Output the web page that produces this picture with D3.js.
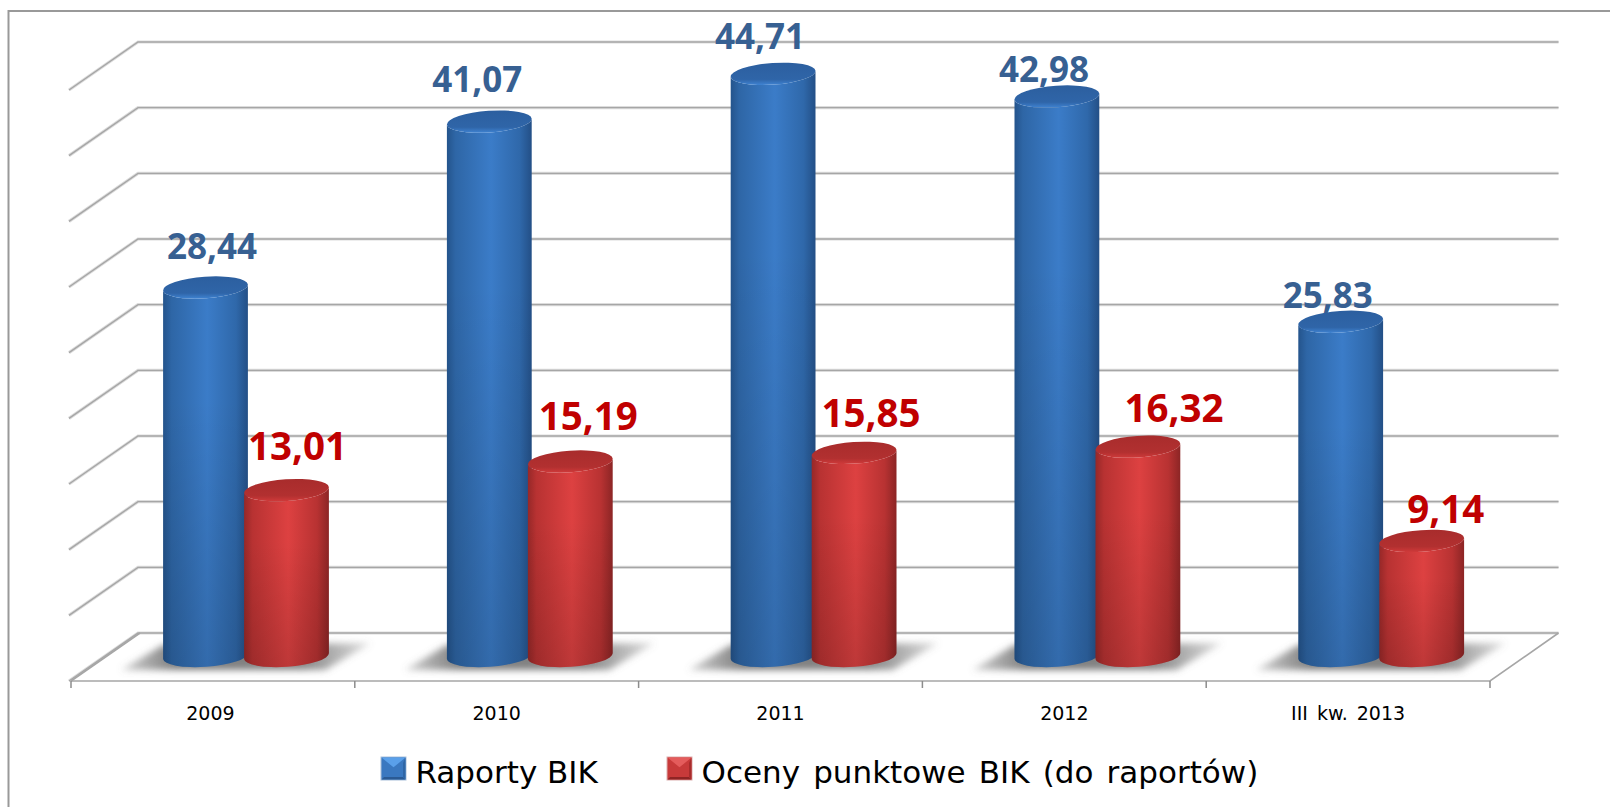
<!DOCTYPE html>
<html lang="pl">
<head>
<meta charset="utf-8">
<script src="https://d3js.org/d3.v7.min.js"></script>
<style>
html,body{margin:0;padding:0;background:#fff;overflow:hidden}
svg{display:block}
</style>
</head>
<body>
<svg id="chart" width="1610" height="807"></svg>
<script>
// ---- data ----
const categories = ["2009", "2010", "2011", "2012", "III kw. 2013"];
const seriesNames = ["Raporty BIK", "Oceny punktowe BIK (do raportów)"];
const raportyValues = [28.44, 41.07, 44.71, 42.98, 25.83];
const ocenyValues = [13.01, 15.19, 15.85, 16.32, 9.14];

// ---- layout ----
const W = 1610, H = 807;
const depthX = 69, depthY = 48;      // wall/floor skew
const midDepthY = 28;                // value tops are offset onto the floor's mid depth
const baseDepthY = 23;               // centre of the cylinder's bottom cap
const barRx = 42.5, barRy = 10.8, tilt = -4;
const labelDx = [[6.5, -12, -13, -13, -13], [11, 18, 17, 36, 24]];
const labelDy = [[-28, -30, -25, -15, -14], [-30, -32, -26, -25, -18]];
const labelSize = [35, 38.5];
const labelColor = ["#376092", "#C00000"];
const tickLabelDx = [-2.5, 0, 0, 0, 0];
const palettes = [
  {id:"b", stops:["#24548c", "#2e66a6", "#3b7cc8", "#2f68aa", "#234f86"], top:"#2f65a8", topHi:"#2c5f9f", rim:"#3f83d2"},
  {id:"r", stops:["#962828", "#b83232", "#dd4141", "#b83232", "#8c2525"], top:"#b23030", topHi:"#a82c2c", rim:"#d03a3a"}
];

const svg = d3.select("#chart");
const defs = svg.append("defs");

// scales
const y = d3.scaleLinear().domain([0, 45]).range([633, 42]);
const x = d3.scaleBand().domain(categories).range([71, 1490]);
const xSeries = d3.scaleBand().domain(seriesNames).range([94, 256]);
const gridValues = y.ticks(9);

// gradients
palettes.forEach(p => {
  const g = defs.append("linearGradient").attr("id", "body-" + p.id);
  [0, .1, .52, .86, 1].forEach((o, i) =>
    g.append("stop").attr("offset", o).attr("stop-color", p.stops[i]));
  const t = defs.append("linearGradient").attr("id", "top-" + p.id)
    .attr("x1", 0).attr("x2", 0).attr("y1", 0).attr("y2", 1);
  [[0, p.topHi], [.75, p.top], [1, p.rim]]
    .forEach(s => t.append("stop").attr("offset", s[0]).attr("stop-color", s[1]));
});
const dark = defs.append("linearGradient").attr("id", "darken")
  .attr("x1", 0).attr("x2", 0).attr("y1", 0).attr("y2", 1);
[[0, 0], [.3, 0], [1, .14]].forEach(s =>
  dark.append("stop").attr("offset", s[0]).attr("stop-color", "#000").attr("stop-opacity", s[1]));
const sh = defs.append("linearGradient").attr("id", "shadow");
[[0, .3], [.22, .9], [.72, .85], [1, .2]].forEach(s =>
  sh.append("stop").attr("offset", s[0]).attr("stop-color", "#6e6e6e").attr("stop-opacity", s[1]));
defs.append("filter").attr("id", "blur").attr("x", "-20%").attr("y", "-40%").attr("width", "140%").attr("height", "180%")
  .append("feGaussianBlur").attr("stdDeviation", 3.5);

// outer frame: only top and left edges are visible
svg.append("path").attr("d", `M8.5 ${H}V11H${W}`)
  .attr("fill", "none").attr("stroke", "#999").attr("stroke-width", 2);

// gridlines on back and side walls
const gridG = svg.append("g").attr("fill", "none");
const gridPath = v => `M${71 - 2} ${y(v) + depthY}L${71 - 2 + depthX} ${y(v)}H1558.5`;
gridG.selectAll("path.halo").data(gridValues).join("path").attr("class", "halo")
  .attr("d", gridPath).attr("stroke", "#dcdcdc").attr("stroke-width", 3.2);
gridG.selectAll("path.core").data(gridValues).join("path").attr("class", "core")
  .attr("d", gridPath).attr("stroke", "#a6a6a6").attr("stroke-width", 1.4);

// floor front edges
const floor = svg.append("g").attr("fill", "none").attr("stroke", "#a6a6a6").attr("stroke-width", 1.6);
floor.append("path").attr("d", `M71 ${y(0) + depthY}H1490L1558.5 ${y(0)}`);
floor.append("path").attr("d", `M71 ${y(0) + depthY}L${71 + depthX} ${y(0)}`);

// axis: category labels centred on bands, tick marks at band edges
const axisY = y(0) + depthY;
const axis = svg.append("g").attr("transform", `translate(0,${axisY})`)
  .call(d3.axisBottom(x).tickSize(0).tickPadding(26));
axis.select(".domain").remove();
axis.selectAll("text").attr("font-family", "'DejaVu Sans'").attr("font-size", 19)
  .attr("word-spacing", 3).attr("fill", "#000").attr("dy", 0)
  .attr("y", 39).attr("text-anchor", "middle")
  .attr("x", (d, i) => tickLabelDx[i]);
const tickX = categories.map(c => x(c)).concat(x.range()[1]);
svg.append("g").selectAll("line").data(tickX).join("line")
  .attr("x1", d => d).attr("x2", d => d).attr("y1", axisY).attr("y2", axisY + 7)
  .attr("stroke", "#8c8c8c").attr("stroke-width", 1.5);

// floor shadows
svg.append("g").selectAll("path").data(categories).join("path")
  .attr("d", c => { const t = x(c);
    return `M${t + 50} 670L${t + 92} 645L${t + 300} 643L${t + 254} 670Z`; })
  .attr("fill", "url(#shadow)").attr("filter", "url(#blur)");

// cylinders
const rad = tilt * Math.PI / 180;
const ex = barRx * Math.cos(rad), ey = barRx * Math.sin(rad);
const bodyPath = (cx, top, base) =>
  `M${cx - ex} ${top - ey}L${cx - ex} ${base - ey}` +
  `A${barRx} ${barRy} ${tilt} 0 0 ${cx + ex} ${base + ey}` +
  `L${cx + ex} ${top + ey}` +
  `A${barRx} ${barRy} ${tilt} 0 1 ${cx - ex} ${top - ey}Z`;
const topPath = (cx, top) =>
  `M${cx - ex} ${top - ey}A${barRx} ${barRy} ${tilt} 1 1 ${cx + ex} ${top + ey}` +
  `A${barRx} ${barRy} ${tilt} 1 1 ${cx - ex} ${top - ey}Z`;

const seriesValues = [raportyValues, ocenyValues];
const barsG = svg.append("g");
categories.forEach((c, i) => {
  seriesNames.forEach((s, k) => {
    const v = seriesValues[k][i];
    const cx = x(c) + xSeries(s) + xSeries.bandwidth() / 2;
    const top = y(v) + midDepthY, base = y(0) + baseDepthY;
    const p = palettes[k];
    const g = barsG.append("g");
    g.append("path").attr("d", bodyPath(cx, top, base)).attr("fill", `url(#body-${p.id})`);
    g.append("path").attr("d", bodyPath(cx, top, base)).attr("fill", "url(#darken)");
    g.append("path").attr("d", topPath(cx, top)).attr("fill", `url(#top-${p.id})`);
  });
});

// value labels
const fmt = v => v.toFixed(2).replace(".", ",");
seriesNames.forEach((s, k) => {
  svg.append("g").selectAll("text").data(seriesValues[k]).join("text")
    .attr("x", (d, i) => x(categories[i]) + xSeries(s) + xSeries.bandwidth() / 2 + labelDx[k][i])
    .attr("y", (d, i) => y(d) + midDepthY + labelDy[k][i])
    .attr("text-anchor", "middle")
    .attr("font-family", "'Open Sans'").attr("font-weight", 700)
    .attr("font-size", labelSize[k]).attr("fill", labelColor[k])
    .text(fmt);
});

// legend
const legendX = [381, 667];
const legendColors = [
  {t:"#5aa0ea", r:"#2f66a6", b:"#2a5a94", c:"#3a78c0", e:"#a9c0da"},
  {t:"#e45c5c", r:"#a82c2c", b:"#8f2424", c:"#c83a3a", e:"#dcb0b0"}
];
const sw = 25, sh2 = 23, sy = 757;
const legend = svg.append("g");
seriesNames.forEach((s, k) => {
  const lx = legendX[k], c = legendColors[k];
  const g = legend.append("g").attr("transform", `translate(${lx},${sy})`);
  g.append("rect").attr("width", sw).attr("height", sh2).attr("fill", c.c).attr("stroke", c.e);
  g.append("path").attr("d", `M0.5 0.5H${sw-.5}L${sw/2} ${sh2*.45}Z`).attr("fill", c.t);
  g.append("path").attr("d", `M0.5 ${sh2-.5}H${sw-.5}L${sw-3} ${sh2-3}H3Z`).attr("fill", c.b);
  g.append("path").attr("d", `M${sw-.5} 0.5V${sh2-.5}L${sw-3} ${sh2-3}V6Z`).attr("fill", c.r);
  legend.append("text").attr("x", lx + 34.5).attr("y", 783)
    .attr("font-family", "'DejaVu Sans'").attr("font-size", 31).attr("fill", "#000")
    .attr("word-spacing", k === 1 ? 3.3 : 0).text(s);
});
</script>
</body>
</html>
